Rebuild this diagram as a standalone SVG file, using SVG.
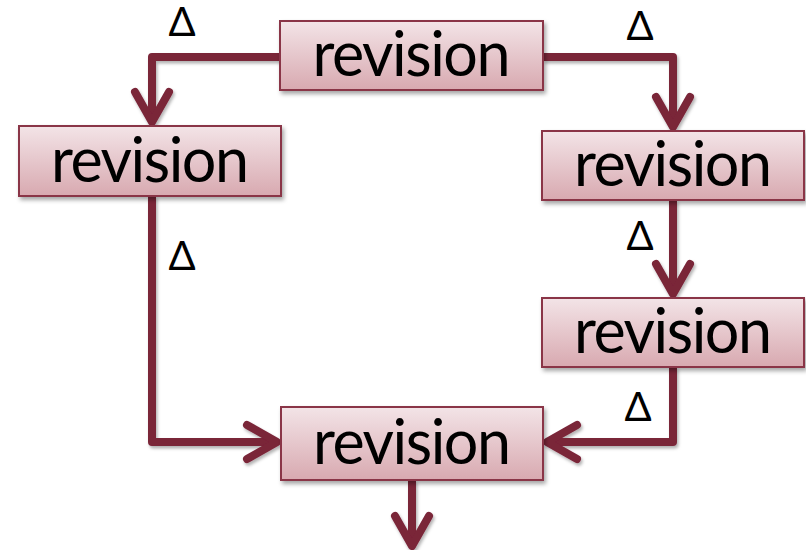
<svg xmlns="http://www.w3.org/2000/svg" width="806" height="550" viewBox="0 0 806 550">
<style>
.box{fill:url(#g);stroke:#8a3446;stroke-width:2;filter:url(#sh)}
.lbl{font-family:Lato,"Open Sans",sans-serif;font-size:61px;fill:#000;text-anchor:middle}
.d{font-family:Lato,"Open Sans",sans-serif;font-size:40px;fill:#000;text-anchor:middle}
.c{fill:none;stroke:#7a2539;stroke-width:8;stroke-linejoin:round}
</style>
<defs>
<linearGradient id="g" x1="0" y1="0" x2="0" y2="1">
<stop offset="0" stop-color="#f3e4e7"/>
<stop offset="1" stop-color="#d8a9b0"/>
</linearGradient>
<filter id="sh" x="-10%" y="-20%" width="130%" height="160%">
<feDropShadow dx="2" dy="3" stdDeviation="2" flood-color="#000" flood-opacity="0.35"/>
</filter>
<filter id="sh2" filterUnits="userSpaceOnUse" x="0" y="0" width="806" height="550">
<feDropShadow dx="1.5" dy="2.5" stdDeviation="1.5" flood-color="#000" flood-opacity="0.3"/>
</filter>
<marker id="arr" markerUnits="userSpaceOnUse" orient="auto" overflow="visible" markerWidth="1" markerHeight="1" refX="0" refY="0">
<path d="M-27,-17 L3,0 L-27,17" fill="none" stroke="#7a2539" stroke-width="8" stroke-linecap="round" stroke-linejoin="round"/>
</marker>
</defs>
<g id="connectors" filter="url(#sh2)">
<path class="c" d="M280,57 H152 V119" marker-end="url(#arr)"/>
<path class="c" d="M543,57 H673 V124" marker-end="url(#arr)"/>
<path class="c" d="M673,200 V291" marker-end="url(#arr)"/>
<path class="c" d="M673,367 V442 H550" marker-end="url(#arr)"/>
<path class="c" d="M152,196 V442 H274" marker-end="url(#arr)"/>
<path class="c" d="M412,480 V543" marker-end="url(#arr)"/>
</g>
<g id="deltas">
<text class="d" x="182" y="36">Δ</text>
<text class="d" x="640" y="40">Δ</text>
<text class="d" x="182" y="270">Δ</text>
<text class="d" x="640" y="250">Δ</text>
<text class="d" x="638" y="421">Δ</text>
</g>
<g id="n_top">
<rect class="box" x="280" y="21" width="263" height="69"/>
<text class="lbl" x="411.5" y="76" textLength="198">revision</text>
</g>
<g id="n_left">
<rect class="box" x="19" y="126" width="262" height="70"/>
<text class="lbl" x="150" y="182" textLength="198">revision</text>
</g>
<g id="n_right1">
<rect class="box" x="542" y="131" width="262" height="69"/>
<text class="lbl" x="673" y="186" textLength="198">revision</text>
</g>
<g id="n_right2">
<rect class="box" x="542" y="298" width="262" height="69"/>
<text class="lbl" x="673" y="353" textLength="198">revision</text>
</g>
<g id="n_bottom">
<rect class="box" x="281" y="407" width="262" height="73"/>
<text class="lbl" x="412" y="464" textLength="198">revision</text>
</g>
</svg>
